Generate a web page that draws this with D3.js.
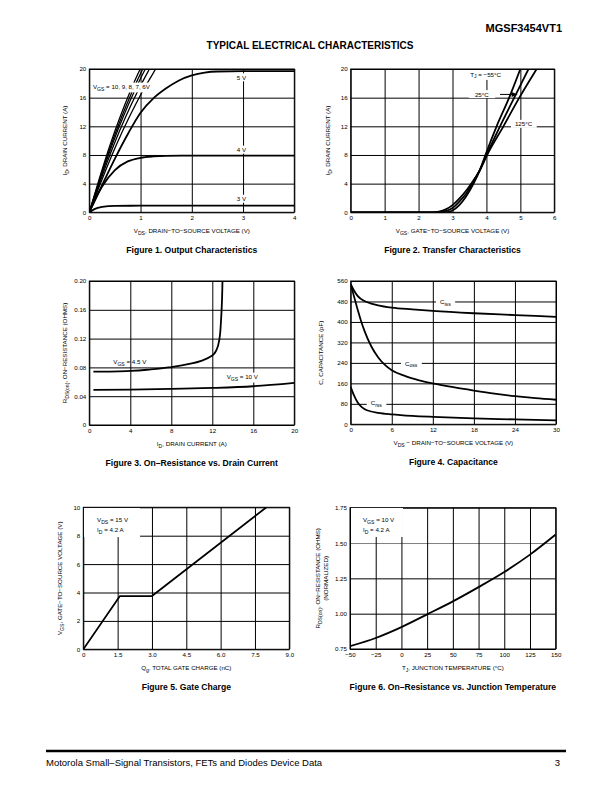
<!DOCTYPE html>
<html><head><meta charset="utf-8">
<script src="https://cdn.jsdelivr.net/npm/d3@7/dist/d3.min.js"></script>
<style>body{margin:0;background:#fff} svg text{font-family:"Liberation Sans",Arial,Helvetica,sans-serif}</style>
</head><body><script>
// ---------------- DATA ----------------
// Figure 1: Output characteristics  [VDS (V), ID (A)]
const fig1XTicks = [0,1,2,3,4];
const fig1YTicks = [0,4,8,12,16,20];
const vgs10 = [[0,0],[0.2,4.8],[0.4,9.3],[0.6,13.3],[0.8,16.9],[1.0,20.1],[1.1,21.5]];
const vgs9  = [[0,0],[0.21,4.8],[0.42,9.3],[0.63,13.3],[0.84,16.9],[1.05,20.1],[1.15,21.5]];
const vgs8  = [[0,0],[0.22,4.8],[0.44,9.3],[0.66,13.3],[0.88,16.9],[1.1,20.1],[1.2,21.5]];
const vgs7  = [[0,0],[0.236,4.8],[0.472,9.3],[0.708,13.3],[0.944,16.9],[1.18,20.1],[1.28,21.5]];
const vgs6  = [[0,0],[0.26,4.8],[0.52,9.3],[0.78,13.3],[1.04,16.9],[1.3,20.1],[1.4,21.5]];
const vgs5  = [[0,0],[0.25,3.8],[0.5,7.5],[0.75,10.9],[1.0,13.9],[1.25,15.9],[1.5,17.3],[1.75,18.4],[2.0,19.1],[2.25,19.5],[2.5,19.65],[3.0,19.7],[4.0,19.7]];
const vgs4  = [[0,0],[0.1,1.6],[0.25,3.6],[0.5,5.9],[0.75,7.1],[1.0,7.6],[1.25,7.8],[1.5,7.88],[2.0,7.9],[4.0,7.9]];
const vgs3  = [[0,0],[0.1,0.45],[0.25,0.75],[0.5,0.9],[1.0,0.92],[4.0,0.92]];

// Figure 2: Transfer characteristics [VGS (V), ID (A)]
const fig2XTicks = [0,1,2,3,4,5,6];
const fig2YTicks = [0,4,8,12,16,20];
const tjM55 = [[0,0],[2.8,0],[3.0,0.25],[3.2,1.0],[3.4,2.2],[3.62,4],[3.8,5.8],[3.97,8],[4.3,12],[4.67,16],[5.0,20]];
const tj25  = [[0,0],[2.6,0],[2.8,0.15],[3.0,0.6],[3.2,1.5],[3.4,2.6],[3.58,4],[3.8,5.9],[4.0,8],[4.4,12],[4.82,16],[5.24,20]];
const tj125 = [[0,0],[2.4,0],[2.6,0.1],[2.8,0.4],[3.0,1.0],[3.2,1.9],[3.4,3.0],[3.55,4],[3.8,5.8],[4.02,8],[4.5,12],[4.97,16],[5.48,20]];

// Figure 3: On-resistance vs drain current [ID (A), RDS(on) (ohm)]
const fig3XTicks = [0,4,8,12,16,20];
const fig3YTicks = [0,0.04,0.08,0.12,0.16,0.20];
const fig3YLabels = ["0","0.04","0.08","0.12","0.16","0.20"];
const rdsVgs45 = [[0.4,0.074],[2,0.0742],[4,0.0752],[6,0.0772],[8,0.0805],[10,0.0855],[11,0.0895],[12,0.0965],[12.4,0.104],[12.7,0.12],[12.85,0.145],[12.95,0.175],[13.0,0.205]];
const rdsVgs10 = [[0.4,0.0488],[4,0.0492],[8,0.0502],[12,0.0515],[16,0.0538],[20,0.0585]];

// Figure 4: Capacitance [VDS (V), C (pF)]
const fig4XTicks = [0,6,12,18,24,30];
const fig4YTicks = [0,80,160,240,320,400,480,560];
const ciss = [[0,548],[0.5,522],[1,502],[2,482],[3,472],[4,465],[6,456],[9,449],[12,443],[18,434],[24,427],[30,420]];
const coss = [[0,548],[0.5,498],[1,450],[1.5,405],[2,366],[3,305],[4,262],[5,232],[6,211],[8,188],[10,172],[12,160],[15,145],[18,132],[21,120],[24,110],[27,102],[30,96]];
const crss = [[0,146],[0.5,112],[1,86],[1.5,70],[2,60],[3,50],[4,45],[6,39],[9,33],[12,29],[18,23],[24,19],[30,15]];

// Figure 5: Gate charge [Qg (nC), VGS (V)]
const fig5XTicks = [0,1.5,3,4.5,6,7.5,9];
const fig5XLabels = ["0","1.5","3.0","4.5","6.0","7.5","9.0"];
const fig5YTicks = [0,2,4,6,8,10];
const gateCharge = [[0,0],[1.6,3.75],[3.0,3.75],[8.0,10]];

// Figure 6: Normalized on-resistance vs junction temperature [TJ (°C), RDS(on) norm]
const fig6XTicks = [-50,-25,0,25,50,75,100,125,150];
const fig6XLabels = ["−50","−25","0","25","50","75","100","125","150"];
const fig6YTicks = [0.75,1.0,1.25,1.5,1.75];
const fig6YLabels = ["0.75","1.00","1.25","1.50","1.75"];
const rdsTemp = [[-50,0.77],[-25,0.828],[0,0.905],[25,0.995],[50,1.087],[75,1.188],[100,1.295],[125,1.418],[150,1.56]];

// ---------------- DRAWING ----------------
const FONT = '"Liberation Sans",Arial,Helvetica,sans-serif';
const TFS = 6.2;   // small text size
const svg = d3.select("body").append("svg").attr("width",612).attr("height",792);
let clipId = 0;

function rich(t, str, fs){
  const parts = str.split(/(\{[^}]*\})/).filter(p=>p.length);
  let sub = false;
  parts.forEach(p=>{
    if(p[0]==="{"){
      t.append("tspan").attr("font-size",fs*0.82).attr("dy",fs*0.3).text(p.slice(1,-1));
      sub = true;
    } else {
      const ts = t.append("tspan").text(p);
      if(sub){ ts.attr("dy",-fs*0.3); sub=false; }
    }
  });
  return t;
}

function label(g, x, y, str, opt={}){
  const fs = opt.fs||TFS;
  const t = g.append("text").attr("x",x).attr("y",y).attr("dy","0.35em")
    .attr("font-size",fs).attr("fill","#000").attr("text-anchor",opt.anchor||"start");
  rich(t,str,fs);
  if(opt.bg){
    const bb = t.node().getBBox();
    const px = opt.padX!=null?opt.padX:2.5;
    g.insert("rect",()=>t.node()).attr("x",bb.x-px).attr("y",bb.y-0.5)
      .attr("width",bb.width+2*px).attr("height",bb.height+1).attr("fill","#fff");
  }
  return t;
}

function panel(c){
  const g = svg.append("g");
  const x = d3.scaleLinear().domain(c.xd).range([c.l,c.r]);
  const y = d3.scaleLinear().domain(c.yd).range([c.b,c.t]);
  const w = c.r-c.l, h = c.b-c.t;
  const ax = g.append("g").attr("transform",`translate(0,${c.b})`)
    .call(d3.axisBottom(x).tickValues(c.xt).tickSizeInner(-h).tickSizeOuter(0).tickPadding(3.4)
      .tickFormat((d,i)=>c.xl?c.xl[i]:String(d)));
  const ay = g.append("g").attr("transform",`translate(${c.l},0)`)
    .call(d3.axisLeft(y).tickValues(c.yt).tickSizeInner(-w).tickSizeOuter(0).tickPadding(3)
      .tickFormat((d,i)=>c.yl?c.yl[i]:String(d)));
  [ax,ay].forEach(a=>{
    a.attr("font-family",FONT).attr("font-size",TFS);
    a.select(".domain").remove();
    a.selectAll(".tick line").attr("stroke","#000").attr("stroke-width",1);
    a.selectAll(".tick text").attr("fill","#000");
  });
  g.append("rect").attr("x",c.l).attr("y",c.t).attr("width",w).attr("height",h)
    .attr("fill","none").attr("stroke","#000").attr("stroke-width",1);
  const id = "clip"+(clipId++);
  g.append("clipPath").attr("id",id).append("rect").attr("x",c.l).attr("y",c.t).attr("width",w).attr("height",h);
  const curves = g.append("g").attr("clip-path",`url(#${id})`);
  const ann = g.append("g");
  // axis titles
  const xt = g.append("text").attr("x",(c.l+c.r)/2).attr("y",c.b+21).attr("text-anchor","middle")
    .attr("font-size",TFS).attr("fill","#000");
  rich(xt,c.xTitle,TFS);
  (Array.isArray(c.yTitle)?c.yTitle:[c.yTitle]).forEach((s,i)=>{
    const yx = c.yTitleX[i];
    const yt = g.append("text").attr("transform",`translate(${yx},${(c.t+c.b)/2}) rotate(-90)`)
      .attr("text-anchor","middle").attr("font-size",TFS).attr("fill","#000");
    rich(yt,s,TFS);
  });
  g.append("text").attr("x",c.capX!=null?c.capX:(c.l+c.r)/2).attr("y",c.b+40.5).attr("text-anchor","middle")
    .attr("font-size",8.6).attr("font-weight","bold").attr("fill","#000").text(c.caption);
  const line = d3.line().x(d=>x(d[0])).y(d=>y(d[1]));
  function draw(data, sw=1.8, curve=d3.curveMonotoneX){
    curves.append("path").attr("d",line.curve(curve)(data)).attr("fill","none")
      .attr("stroke","#000").attr("stroke-width",sw).attr("stroke-linejoin","round");
  }
  return {g,x,y,ann,draw,ax,ay};
}

// Header / title / footer
svg.append("text").attr("x",562).attr("y",32).attr("text-anchor","end").attr("font-size",11)
  .attr("font-weight","bold").attr("fill","#000").text("MGSF3454VT1");
svg.append("text").attr("x",310).attr("y",48.5).attr("text-anchor","middle").attr("font-size",10)
  .attr("font-weight","bold").attr("fill","#000").text("TYPICAL ELECTRICAL CHARACTERISTICS");
svg.append("line").attr("x1",46).attr("x2",566).attr("y1",751).attr("y2",751).attr("stroke","#000").attr("stroke-width",2.5);
svg.append("text").attr("x",46).attr("y",766).attr("font-size",9.5).attr("fill","#000")
  .text("Motorola Small–Signal Transistors, FETs and Diodes Device Data");
svg.append("text").attr("x",560).attr("y",766).attr("text-anchor","end").attr("font-size",9.5).attr("fill","#000").text("3");

// Figure 1
{
  const p = panel({l:89.3,r:294.3,t:69,b:212.3,xd:[0,4],yd:[0,20],xt:fig1XTicks,yt:fig1YTicks,
    xTitle:"V{DS}, DRAIN−TO−SOURCE VOLTAGE (V)", yTitle:"I{D}, DRAIN CURRENT (A)", yTitleX:[67],
    caption:"Figure 1. Output Characteristics"});
  [vgs10,vgs9,vgs8,vgs7,vgs6].forEach(d=>p.draw(d,1.3));
  [vgs5,vgs4,vgs3].forEach(d=>p.draw(d,1.8));
  label(p.ann,p.x(0.07),p.y(17.5),"V{GS} = 10, 9, 8, 7, 6V",{bg:true,padX:1});
  label(p.ann,p.x(2.97),p.y(18.8),"5 V",{bg:true,anchor:"middle"});
  label(p.ann,p.x(2.97),p.y(8.7),"4 V",{bg:true,anchor:"middle"});
  label(p.ann,p.x(2.97),p.y(1.85),"3 V",{bg:true,anchor:"middle"});
}
// Figure 2
{
  const p = panel({l:350.7,r:554.3,t:69,b:212.3,xd:[0,6],yd:[0,20],xt:fig2XTicks,yt:fig2YTicks,
    xTitle:"V{GS}, GATE−TO−SOURCE VOLTAGE (V)", yTitle:"I{D}, DRAIN CURRENT (A)", yTitleX:[330],
    caption:"Figure 2. Transfer Characteristics"});
  [tjM55,tj25,tj125].forEach(d=>p.draw(d,1.8));
  label(p.ann,p.x(3.52),p.y(19.25),"T{J} = −55°C",{bg:true});
  label(p.ann,p.x(3.66),p.y(16.45),"25°C",{bg:true,padX:6});
  p.ann.append("line").attr("x1",p.x(4.40)).attr("x2",p.x(4.78)).attr("y1",p.y(16.45)).attr("y2",p.y(16.45))
    .attr("stroke","#000").attr("stroke-width",1);
  const ax = p.x(4.92), ay = p.y(16.45);
  p.ann.append("path").attr("d",`M${ax},${ay} L${ax-6},${ay-2.5} L${ax-6},${ay+2.5} Z`).attr("fill","#000");
  label(p.ann,p.x(4.84),p.y(12.3),"125°C",{bg:true,padX:4});
}
// Figure 3
{
  const p = panel({l:89.3,r:294.3,t:281,b:425,xd:[0,20],yd:[0,0.2],xt:fig3XTicks,yt:fig3YTicks,yl:fig3YLabels,
    xTitle:"I{D}, DRAIN CURRENT (A)", yTitle:"R{DS(on)}, ON−RESISTANCE (OHMS)", yTitleX:[67],
    caption:"Figure 3. On–Resistance vs. Drain Current"});
  p.draw(rdsVgs45,1.8,d3.curveMonotoneY);
  p.draw(rdsVgs10,1.8);
  label(p.ann,p.x(2.34),p.y(0.0875),"V{GS} = 4.5 V",{bg:false});
  label(p.ann,p.x(13.4),p.y(0.0667),"V{GS} = 10 V",{bg:true});
}
// Figure 4
{
  const p = panel({l:350.7,r:556,t:281,b:424.3,xd:[0,30],yd:[0,560],xt:fig4XTicks,yt:fig4YTicks,
    xTitle:"V{DS} − DRAIN−TO−SOURCE VOLTAGE (V)", yTitle:"C, CAPACITANCE (pF)", yTitleX:[323],
    caption:"Figure 4. Capacitance"});
  [ciss,coss,crss].forEach(d=>p.draw(d,1.8));
  label(p.ann,p.x(13.05),p.y(479),"C{iss}",{bg:true,padX:4});
  label(p.ann,p.x(7.93),p.y(238),"C{oss}",{bg:true,padX:4});
  label(p.ann,p.x(2.92),p.y(82),"C{rss}",{bg:true,padX:4});
}
// Figure 5
{
  const p = panel({l:83.3,r:289.3,t:507.3,b:649.3,xd:[0,9],yd:[0,10],xt:fig5XTicks,xl:fig5XLabels,yt:fig5YTicks,
    xTitle:"Q{g}, TOTAL GATE CHARGE (nC)", yTitle:"V{GS}, GATE−TO−SOURCE VOLTAGE (V)", yTitleX:[62],
    caption:"Figure 5. Gate Charge"});
  p.draw(gateCharge,1.8,d3.curveLinear);
  p.ann.append("rect").attr("x",p.x(0.03)).attr("y",p.y(9.95)).attr("width",p.x(2.48)-p.x(0.03))
    .attr("height",p.y(7.9)-p.y(9.95)).attr("fill","#fff");
  label(p.ann,p.x(0.6),p.y(9.1),"V{DS} = 15 V");
  label(p.ann,p.x(0.6),p.y(8.4),"I{D} = 4.2 A");
}
// Figure 6
{
  const p = panel({l:350,r:555.7,t:507.7,b:649,xd:[-50,150],yd:[0.75,1.75],xt:fig6XTicks,xl:fig6XLabels,yt:fig6YTicks,yl:fig6YLabels,
    xTitle:"T{J}, JUNCTION TEMPERATURE (°C)", yTitle:["R{DS(on)}, ON−RESISTANCE (OHMS)","(NORMALIZED)"], yTitleX:[320,328],
    caption:"Figure 6. On–Resistance vs. Junction Temperature"});
  p.ay.selectAll(".tick line").filter(d=>d===1.5).attr("stroke-width",0.5);
  p.draw(rdsTemp,1.8);
  p.ann.append("rect").attr("x",p.x(-49)).attr("y",p.y(1.748)).attr("width",p.x(1.5)-p.x(-49))
    .attr("height",p.y(1.543)-p.y(1.748)).attr("fill","#fff");
  label(p.ann,p.x(-37.4),p.y(1.663),"V{GS} = 10 V");
  label(p.ann,p.x(-37.4),p.y(1.592),"I{D} = 4.2 A");
}
</script></body></html>
